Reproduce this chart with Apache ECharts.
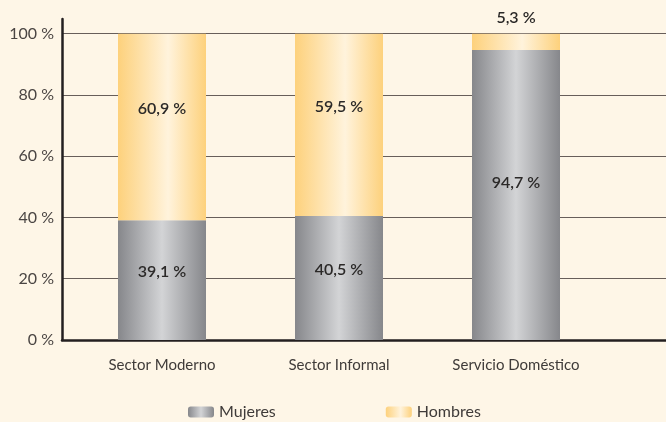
<!DOCTYPE html>
<html>
<head>
<meta charset="utf-8">
<script src="https://cdn.jsdelivr.net/npm/echarts@6/dist/echarts.min.js"></script>
<style>
html,body{margin:0;padding:0;background:#fef6e7;}
#c{width:666px;height:422px;}
</style>
</head>
<body>
<div id="c"></div>
<script>
var categories = ['Sector Moderno', 'Sector Informal', 'Servicio Doméstico'];
var mujeres = [39.1, 40.5, 94.7];
var hombres = [60.9, 59.5, 5.3];
var yTicks = [0, 20, 40, 60, 80, 100];

function fmt(v) { return String(v).replace('.', ',') + ' %'; }

var grayGrad = new echarts.graphic.LinearGradient(0, 0, 1, 0, [
  {offset: 0, color: '#86878b'},
  {offset: 0.5, color: '#d3d4d6'},
  {offset: 1, color: '#86878b'}
]);
var yellowGrad = new echarts.graphic.LinearGradient(0, 0, 1, 0, [
  {offset: 0, color: '#fdd17c'},
  {offset: 0.57, color: '#fff3dc'},
  {offset: 1, color: '#fdd17c'}
]);

var font = 'Lato, "Open Sans", sans-serif';
var chart = echarts.init(document.getElementById('c'));

var mujeresData = mujeres.map(function (v, i) {
  return {value: v, label: {offset: [0, i === 2 ? -12 : -8]}};
});
var hombresData = hombres.map(function (v, i) {
  if (i === 2) return {value: v, label: {position: 'top', distance: 8, offset: [0, 0]}};
  return {value: v};
});

chart.setOption({
  backgroundColor: '#fef6e7',
  animation: false,
  textStyle: {fontFamily: font},
  legend: {
    top: 399,
    left: 183,
    itemWidth: 26,
    itemHeight: 11,
    itemGap: 110,
    textStyle: {fontFamily: font, fontSize: 16, color: '#3f3b39'},
    data: ['Mujeres', 'Hombres']
  },
  grid: [
    {left: 73.5, width: 531, top: 33.7, height: 306.3},
    {left: 62, right: 0, top: 33.7, height: 306.3},
    {left: 62, right: 0, top: 19, height: 321}
  ],
  xAxis: [
    {
      type: 'category', gridIndex: 0, data: categories,
      axisLine: {show: false}, axisTick: {show: false},
      axisLabel: {fontFamily: font, fontSize: 15, color: '#3f3b39', margin: 18}
    },
    {
      type: 'value', gridIndex: 1, min: 0, max: 1,
      axisLine: {show: true, onZero: false, lineStyle: {color: '#231f20', width: 2.5}},
      axisTick: {show: false}, axisLabel: {show: false}, splitLine: {show: false}
    },
    {
      type: 'value', gridIndex: 2, min: 0, max: 1, show: false
    }
  ],
  yAxis: [
    {type: 'value', gridIndex: 0, min: 0, max: 100, show: false},
    {
      type: 'value', gridIndex: 1, min: 0, max: 100, interval: 20,
      axisLine: {show: false}, axisTick: {show: false},
      axisLabel: {
        fontFamily: font, fontSize: 16, color: '#4a4543', margin: 8,
        formatter: function (v) { return yTicks.indexOf(v) >= 0 ? v + ' %' : ''; }
      },
      splitLine: {show: true, lineStyle: {color: '#675e5a', width: 1.2}}
    },
    {
      type: 'value', gridIndex: 2, min: 0, max: 1,
      axisLine: {show: true, lineStyle: {color: '#231f20', width: 2.5}},
      axisTick: {show: false}, axisLabel: {show: false}, splitLine: {show: false}
    }
  ],
  series: [
    {
      name: 'Mujeres', type: 'bar', stack: 's', xAxisIndex: 0, yAxisIndex: 0,
      barWidth: 88, z: 3,
      itemStyle: {color: grayGrad},
      label: {show: true, position: 'inside', formatter: function (p) { return fmt(p.value); },
        fontFamily: font, fontSize: 16, fontWeight: 600, color: '#2b2928'},
      data: mujeresData
    },
    {
      name: 'Hombres', type: 'bar', stack: 's', xAxisIndex: 0, yAxisIndex: 0,
      barWidth: 88, z: 3,
      itemStyle: {color: yellowGrad},
      label: {show: true, position: 'inside', offset: [0, -18], formatter: function (p) { return fmt(p.value); },
        fontFamily: font, fontSize: 16, fontWeight: 600, color: '#2b2928'},
      data: hombresData
    }
  ]
});
</script>
</body>
</html>
